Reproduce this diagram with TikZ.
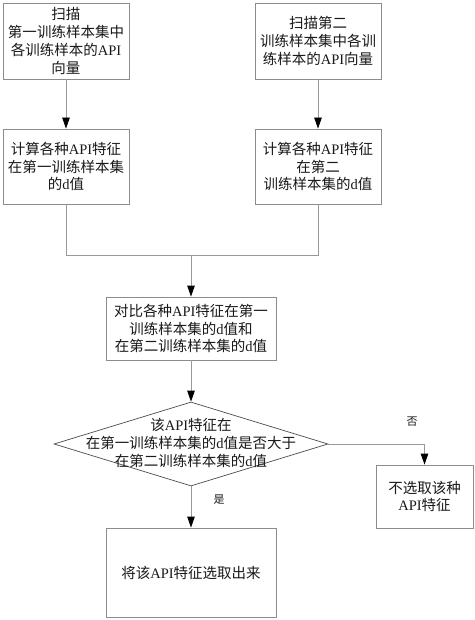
\documentclass[tikz,border=0pt]{standalone}
\usepackage{fontspec}
\setmainfont{Noto Sans CJK SC}
\newfontfamily\latfont{Liberation Serif}
\newcommand\en[1]{{\latfont #1}}
\usetikzlibrary{arrows.meta,shapes.geometric}
\begin{document}
\begin{tikzpicture}[x=1pt,y=-1pt,
  box/.style={draw=black!45, line width=0.8pt, align=center, inner sep=0pt,
    font=\fontsize{14.5}{17.7}\selectfont, text=black!90},
  dia/.style={draw=black!70, line width=0.7pt, shape=diamond, inner sep=0pt},
  conn/.style={draw=black!40, line width=0.8pt},
  arr/.style={conn, -{Triangle[width=7.5pt,length=11pt,color=black]}},
  lbl/.style={font=\fontsize{11}{13}\selectfont, text=black!90}]
\useasboundingbox[fill=white] (0,0) rectangle (474,620);

\node[box, minimum width=126pt, minimum height=76pt] (b1) at (66,41)
  {扫描\\第一训练样本集中\\各训练样本的\en{API}\\向量};
\node[box, minimum width=126pt, minimum height=76pt] (b2) at (318,41)
  {扫描第二\\训练样本集中各训\\练样本的\en{API}向量};
\node[box, minimum width=126pt, minimum height=75pt] (b3) at (66,166.5)
  {计算各种\en{API}特征\\在第一训练样本集\\的\en{d}值};
\node[box, minimum width=126pt, minimum height=75pt] (b4) at (318,166.5)
  {计算各种\en{API}特征\\在第二\\训练样本集的\en{d}值};
\node[box, minimum width=170pt, minimum height=63pt] (b5) at (191,328.5)
  {对比各种\en{API}特征在第一\\训练样本集的\en{d}值和\\在第二训练样本集的\en{d}值};
\node[dia, minimum width=274pt, minimum height=84pt] (d) at (191,444) {};
\node[box, draw=none, fill=none] (dt) at (191,443)
  {该\en{API}特征在\\在第一训练样本集的\en{d}值是否大于\\在第二训练样本集的\en{d}值};
\node[box, minimum width=170pt, minimum height=89pt] (b6) at (191,572.5)
  {将该\en{API}特征选取出来};
\node[box, minimum width=97pt, minimum height=63pt] (b7) at (424.5,496.5)
  {不选取该种\\\en{API}特征};

\coordinate (m) at (191,255);
\draw[arr] (b1.south) -- (b3.north);
\draw[arr] (b2.south) -- (b4.north);
\draw[conn] (b3.south) |- (m);
\draw[conn] (b4.south) |- (m);
\draw[arr] (m) -- (b5.north);
\draw[arr] (b5.south) -- (d.north);
\draw[arr] (d.south) -- (b6.north);
\draw[arr] (d.east) -| (b7.north);

\node[lbl] (yes) at (219,500) {是};
\node[lbl] (no) at (412,422) {否};
\end{tikzpicture}
\end{document}
